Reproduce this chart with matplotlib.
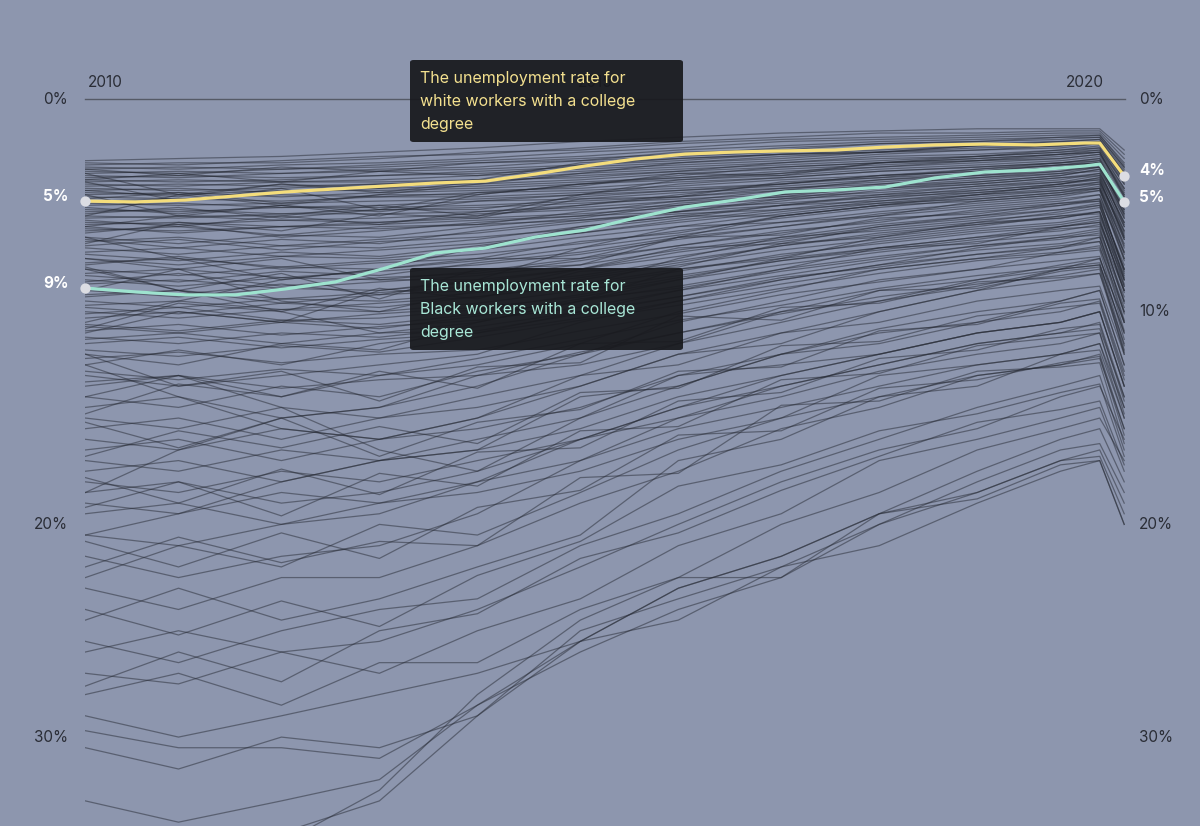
import matplotlib
matplotlib.use("Agg")
import matplotlib.pyplot as plt
from matplotlib.patches import FancyBboxPatch
import numpy as np

plt.rcParams["font.family"] = ["Inter", "DejaVu Sans"]

# time grid of the background series (decimal years)
years = [2009.8, 2010.75, 2011.8, 2012.8, 2013.8, 2014.85, 2015.85,
         2016.9, 2017.9, 2018.9, 2019.75, 2020.15, 2020.4]

# finer time grid for the two highlighted series
hl_years = [2009.8, 2010.31, 2010.82, 2011.33, 2011.84, 2012.35, 2012.86,
            2013.37, 2013.88, 2014.39, 2014.9, 2015.41, 2015.92, 2016.43,
            2016.94, 2017.45, 2017.96, 2018.47, 2018.98, 2019.49, 2020.0,
            2020.15, 2020.4]

white_rate = [4.80, 4.84, 4.75, 4.56, 4.37, 4.23, 4.09, 3.95, 3.86, 3.53,
              3.15, 2.82, 2.59, 2.49, 2.44, 2.40, 2.26, 2.16, 2.12, 2.16,
              2.07, 2.07, 3.62]
black_rate = [8.89, 9.07, 9.21, 9.21, 8.93, 8.60, 7.95, 7.24, 7.01, 6.49,
              6.16, 5.59, 5.08, 4.75, 4.37, 4.28, 4.14, 3.71, 3.43, 3.34,
              3.15, 3.06, 4.84]

# all other groups (percent unemployed)
other_rates = [
    [2.9, 2.8, 2.7, 2.5, 2.3, 2.0, 1.8, 1.6, 1.5, 1.4, 1.4, 1.4, 2.4],
    [3.0, 3.1, 2.9, 2.7, 2.6, 2.3, 2.0, 1.8, 1.6, 1.6, 1.5, 1.5, 2.6],
    [3.1, 3.0, 3.0, 2.8, 2.5, 2.4, 2.1, 1.9, 1.8, 1.7, 1.6, 1.6, 2.8],
    [3.2, 3.3, 3.1, 3.0, 2.8, 2.5, 2.3, 2.0, 1.9, 1.8, 1.7, 1.7, 3.0],
    [3.3, 3.2, 3.3, 3.1, 2.9, 2.7, 2.4, 2.2, 2.0, 1.9, 1.8, 1.7, 3.1],
    [3.4, 3.5, 3.3, 3.2, 3.0, 2.8, 2.6, 2.3, 2.1, 2.0, 1.9, 1.8, 3.2],
    [3.5, 3.4, 3.5, 3.3, 3.2, 2.9, 2.7, 2.5, 2.3, 2.1, 2.0, 1.9, 3.3],
    [3.6, 3.7, 3.5, 3.4, 3.3, 3.1, 2.8, 2.6, 2.4, 2.2, 2.1, 2.0, 3.4],
    [3.7, 3.6, 3.7, 3.6, 3.4, 3.2, 3.0, 2.7, 2.5, 2.3, 2.2, 2.0, 3.5],
    [3.8, 3.9, 3.8, 3.6, 3.5, 3.3, 3.1, 2.9, 2.6, 2.4, 2.3, 2.1, 3.7],
    [3.9, 3.8, 3.9, 3.8, 3.6, 3.4, 3.2, 3.0, 2.7, 2.6, 2.4, 2.2, 3.8],
    [4.0, 4.1, 3.9, 3.9, 3.8, 3.5, 3.3, 3.1, 2.9, 2.7, 2.5, 2.3, 3.9],
    [4.1, 4.0, 4.1, 4.0, 3.8, 3.7, 3.4, 3.2, 3.0, 2.8, 2.6, 2.4, 4.0],
    [4.2, 4.3, 4.2, 4.0, 4.0, 3.8, 3.5, 3.3, 3.1, 2.9, 2.7, 2.5, 4.2],
    [4.3, 4.2, 4.4, 4.2, 4.1, 3.9, 3.7, 3.4, 3.2, 3.0, 2.8, 2.6, 4.3],
    [4.4, 4.5, 4.3, 4.3, 4.2, 4.0, 3.8, 3.6, 3.3, 3.1, 2.9, 2.7, 4.5],
    [4.5, 4.4, 4.6, 4.4, 4.3, 4.2, 3.9, 3.7, 3.4, 3.2, 3.0, 2.8, 4.6],
    [4.6, 4.7, 4.5, 4.6, 4.4, 4.3, 4.1, 3.8, 3.6, 3.4, 3.1, 2.9, 4.8],
    [4.8, 4.7, 4.8, 4.6, 4.6, 4.4, 4.2, 4.0, 3.7, 3.5, 3.2, 3.0, 4.9],
    [4.9, 5.0, 4.9, 4.8, 4.7, 4.5, 4.3, 4.1, 3.8, 3.6, 3.4, 3.1, 5.1],
    [5.0, 4.9, 5.1, 5.0, 4.8, 4.7, 4.4, 4.2, 4.0, 3.7, 3.5, 3.2, 5.2],
    [5.2, 5.3, 5.1, 5.1, 5.0, 4.8, 4.6, 4.3, 4.1, 3.9, 3.6, 3.3, 5.4],
    [5.3, 5.2, 5.4, 5.2, 5.1, 4.9, 4.7, 4.5, 4.2, 4.0, 3.7, 3.5, 5.6],
    [5.5, 5.6, 5.4, 5.4, 5.3, 5.1, 4.8, 4.6, 4.4, 4.1, 3.9, 3.6, 5.8],
    [5.6, 5.5, 5.7, 5.6, 5.4, 5.2, 5.0, 4.7, 4.5, 4.3, 4.0, 3.7, 6.0],
    [5.8, 5.9, 5.7, 5.8, 5.6, 5.4, 5.1, 4.9, 4.6, 4.4, 4.1, 3.9, 6.2],
    [5.9, 5.8, 6.0, 5.9, 5.7, 5.5, 5.3, 5.0, 4.8, 4.5, 4.3, 4.0, 6.4],
    [6.1, 6.2, 6.0, 6.1, 5.9, 5.7, 5.4, 5.2, 4.9, 4.7, 4.4, 4.2, 6.6],
    [3.5, 4.5, 5.0, 4.5, 4.0, 3.5, 3.0, 2.8, 2.5, 2.4, 2.2, 2.1, 3.8],
    [5.5, 4.5, 4.0, 4.2, 3.8, 3.0, 2.8, 2.6, 2.5, 2.2, 2.0, 1.9, 3.5],
    [4.5, 5.5, 5.5, 5.0, 5.5, 4.5, 3.8, 3.5, 3.0, 2.8, 2.6, 2.5, 4.5],
    [6.0, 5.5, 5.0, 5.5, 4.5, 4.0, 3.6, 3.2, 3.0, 2.7, 2.5, 2.4, 4.2],
    [3.3, 3.6, 3.2, 3.4, 3.0, 2.9, 2.5, 2.4, 2.1, 2.0, 1.8, 1.8, 3.2],
    [3.8, 3.5, 3.9, 3.4, 3.6, 3.1, 2.9, 2.6, 2.5, 2.2, 2.2, 2.1, 3.6],
    [4.3, 4.6, 4.0, 4.4, 3.9, 3.6, 3.4, 3.0, 2.8, 2.7, 2.4, 2.3, 4.0],
    [4.7, 4.4, 4.9, 4.5, 4.5, 4.0, 3.7, 3.5, 3.2, 2.9, 2.8, 2.6, 4.4],
    [5.1, 5.4, 5.0, 5.3, 4.8, 4.5, 4.0, 3.7, 3.4, 3.2, 3.0, 2.9, 5.0],
    [5.4, 5.1, 5.6, 5.2, 5.2, 4.6, 4.3, 4.0, 3.6, 3.4, 3.1, 3.0, 5.3],
    [5.7, 6.0, 5.5, 5.9, 5.3, 5.0, 4.6, 4.2, 3.9, 3.6, 3.3, 3.2, 5.6],
    [3.9, 4.8, 4.2, 5.2, 4.4, 4.1, 3.5, 3.6, 3.0, 2.9, 2.6, 2.5, 4.6],
    [6.0, 6.3, 6.0, 5.8, 5.5, 5.0, 4.5, 4.0, 3.6, 3.3, 3.0, 2.8, 5.0],
    [6.2, 6.0, 6.4, 6.0, 5.9, 5.3, 4.8, 4.3, 3.8, 3.5, 3.2, 3.0, 5.5],
    [6.5, 6.8, 6.4, 6.5, 6.0, 5.6, 5.0, 4.5, 4.0, 3.7, 3.4, 3.2, 5.2],
    [6.7, 6.5, 6.9, 6.6, 6.3, 5.8, 5.3, 4.7, 4.2, 3.9, 3.6, 3.3, 6.0],
    [7.0, 7.3, 6.9, 7.0, 6.6, 6.0, 5.5, 5.0, 4.5, 4.1, 3.8, 3.5, 5.8],
    [7.2, 7.0, 7.4, 7.1, 6.8, 6.3, 5.7, 5.2, 4.7, 4.3, 4.0, 3.7, 6.5],
    [7.5, 7.8, 7.4, 7.5, 7.1, 6.5, 6.0, 5.4, 4.9, 4.5, 4.2, 3.9, 6.3],
    [7.7, 7.5, 7.9, 7.6, 7.3, 6.8, 6.2, 5.6, 5.1, 4.7, 4.4, 4.1, 7.0],
    [8.0, 8.3, 7.9, 8.0, 7.6, 7.0, 6.4, 5.8, 5.3, 4.9, 4.6, 4.3, 6.8],
    [8.2, 8.0, 8.4, 8.1, 7.8, 7.3, 6.6, 6.0, 5.5, 5.1, 4.8, 4.5, 7.5],
    [8.5, 8.8, 8.4, 8.5, 8.1, 7.5, 6.9, 6.3, 5.7, 5.3, 5.0, 4.7, 7.2],
    [8.7, 8.5, 8.9, 8.6, 8.3, 7.8, 7.1, 6.5, 5.9, 5.5, 5.2, 4.9, 8.0],
    [9.0, 9.3, 8.9, 9.0, 8.6, 8.0, 7.4, 6.7, 6.1, 5.7, 5.4, 5.1, 7.8],
    [9.2, 9.0, 9.4, 9.1, 8.8, 8.3, 7.6, 6.9, 6.3, 5.9, 5.6, 5.3, 8.5],
    [9.5, 9.8, 9.4, 9.5, 9.1, 8.5, 7.8, 7.1, 6.6, 6.1, 5.8, 5.5, 8.3],
    [9.7, 9.5, 9.9, 9.6, 9.3, 8.8, 8.1, 7.3, 6.8, 6.3, 6.0, 5.7, 9.0],
    [10.0, 10.3, 9.9, 10.0, 9.6, 9.0, 8.3, 7.6, 7.0, 6.5, 6.2, 5.9, 8.8],
    [10.3, 10.0, 10.5, 10.1, 9.8, 9.3, 8.5, 7.8, 7.2, 6.7, 6.4, 6.1, 9.5],
    [10.6, 10.9, 10.4, 10.6, 10.1, 9.5, 8.8, 8.0, 7.4, 6.9, 6.6, 6.3, 9.3],
    [10.9, 10.6, 11.1, 10.7, 10.4, 9.8, 9.0, 8.3, 7.6, 7.1, 6.8, 6.5, 10.0],
    [11.2, 11.5, 11.0, 11.2, 10.7, 10.0, 9.3, 8.5, 7.8, 7.3, 7.0, 6.7, 9.8],
    [11.5, 11.2, 11.7, 11.3, 11.0, 10.3, 9.5, 8.7, 8.0, 7.5, 7.2, 6.9, 10.5],
    [6.3, 5.9, 6.5, 6.2, 5.8, 5.5, 4.9, 4.6, 4.1, 3.8, 3.5, 3.4, 5.9],
    [6.6, 7.0, 6.6, 6.8, 6.2, 5.7, 5.3, 4.8, 4.3, 4.0, 3.7, 3.6, 6.2],
    [6.9, 6.6, 7.1, 6.7, 6.5, 6.1, 5.6, 5.0, 4.6, 4.2, 3.9, 3.8, 6.6],
    [7.3, 7.6, 7.2, 7.4, 6.9, 6.3, 5.8, 5.3, 4.8, 4.4, 4.1, 4.0, 6.9],
    [7.8, 7.4, 8.0, 7.7, 7.5, 6.7, 6.3, 5.5, 5.0, 4.6, 4.3, 4.2, 7.3],
    [8.3, 8.6, 8.1, 8.3, 7.7, 7.2, 6.5, 6.0, 5.4, 5.0, 4.7, 4.5, 7.6],
    [8.6, 8.2, 8.8, 8.4, 8.2, 7.6, 6.9, 6.2, 5.8, 5.2, 4.9, 4.8, 8.1],
    [8.9, 9.2, 8.7, 9.2, 8.5, 8.0, 7.2, 6.6, 6.0, 5.6, 5.2, 5.0, 8.4],
    [9.3, 9.0, 9.6, 9.2, 9.0, 8.4, 7.7, 6.9, 6.4, 5.9, 5.5, 5.4, 8.8],
    [9.8, 10.1, 9.6, 9.8, 9.3, 8.7, 8.0, 7.4, 6.7, 6.2, 5.9, 5.6, 9.1],
    [10.1, 9.8, 10.4, 10.3, 9.9, 9.2, 8.4, 7.6, 7.1, 6.6, 6.1, 6.0, 9.6],
    [10.7, 11.0, 10.5, 10.8, 10.2, 9.4, 8.9, 8.1, 7.5, 6.9, 6.5, 6.4, 10.1],
    [11.3, 11.0, 11.5, 11.0, 10.9, 10.1, 9.3, 8.4, 7.9, 7.3, 6.9, 6.7, 10.4],
    [11.8, 12.1, 11.6, 11.9, 11.2, 10.4, 9.7, 8.9, 8.2, 7.6, 7.3, 7.1, 10.9],
    [12.2, 11.9, 12.4, 12.0, 11.8, 10.9, 10.1, 9.2, 8.6, 8.0, 7.6, 7.4, 11.3],
    [12.8, 13.2, 12.7, 13.0, 12.2, 11.3, 10.4, 9.7, 8.9, 8.3, 7.9, 7.7, 11.6],
    [13.3, 13.0, 13.6, 13.2, 13.0, 11.9, 11.0, 10.1, 9.3, 8.7, 8.3, 8.0, 12.0],
    [6.5, 7.5, 8.5, 8.0, 7.0, 6.0, 5.5, 5.5, 5.0, 4.5, 4.0, 3.8, 6.5],
    [10.5, 9.5, 8.5, 8.0, 7.5, 7.5, 6.5, 5.5, 5.0, 4.8, 4.5, 4.2, 7.2],
    [7.5, 8.0, 9.5, 10.0, 9.0, 8.0, 7.0, 6.8, 6.0, 5.5, 5.0, 4.8, 8.0],
    [9.0, 8.0, 7.5, 8.5, 8.5, 7.0, 6.0, 5.8, 5.5, 4.8, 4.5, 4.3, 7.5],
    [11.0, 10.0, 10.5, 9.0, 8.5, 8.8, 7.5, 6.5, 6.2, 5.8, 5.3, 5.0, 8.5],
    [8.0, 9.0, 10.0, 11.0, 10.5, 9.5, 8.0, 7.5, 7.0, 6.5, 6.0, 5.8, 9.0],
    [6.8, 5.8, 6.2, 5.4, 5.6, 4.7, 4.6, 3.9, 3.7, 3.3, 3.1, 3.0, 5.4],
    [7.9, 9.0, 8.2, 9.4, 8.0, 7.8, 6.5, 6.4, 5.6, 5.4, 4.9, 4.7, 8.2],
    [10.8, 9.6, 10.0, 8.9, 9.4, 8.1, 7.9, 6.8, 6.5, 5.8, 5.6, 5.3, 8.7],
    [12.0, 13.5, 12.8, 14.2, 12.6, 12.4, 10.2, 10.4, 9.0, 8.9, 8.1, 7.9, 11.8],
    [14.8, 13.4, 14.0, 12.8, 13.6, 11.5, 11.4, 9.8, 9.6, 8.6, 8.4, 8.2, 11.9],
    [12.0, 12.5, 11.5, 11.8, 10.5, 9.5, 8.5, 7.5, 6.5, 6.0, 5.5, 5.3, 8.0],
    [12.5, 11.8, 12.5, 11.5, 11.0, 10.0, 9.0, 8.0, 7.0, 6.8, 6.0, 5.8, 8.5],
    [13.0, 13.5, 13.0, 12.5, 12.0, 10.5, 9.5, 8.5, 7.8, 7.0, 6.5, 6.2, 9.0],
    [13.5, 13.0, 14.0, 13.0, 12.5, 11.5, 10.0, 9.0, 8.0, 7.5, 7.0, 6.5, 9.5],
    [14.0, 14.5, 13.5, 14.0, 12.8, 12.0, 10.5, 9.5, 8.5, 8.0, 7.2, 7.0, 10.0],
    [14.5, 14.0, 15.0, 14.5, 13.5, 12.0, 11.0, 10.0, 9.0, 8.5, 7.8, 7.5, 10.5],
    [15.0, 15.5, 14.5, 15.0, 14.0, 13.0, 11.5, 10.5, 9.5, 8.8, 8.0, 7.8, 11.0],
    [15.5, 15.0, 16.0, 15.0, 14.5, 13.5, 12.0, 11.0, 10.0, 9.0, 8.5, 8.2, 11.5],
    [16.0, 16.5, 15.5, 16.0, 15.0, 13.0, 12.5, 11.0, 10.5, 9.5, 9.0, 8.8, 12.0],
    [16.5, 16.0, 17.0, 16.0, 15.5, 14.5, 13.0, 12.0, 10.8, 10.0, 9.5, 9.0, 12.5],
    [17.0, 17.5, 16.5, 17.0, 16.0, 15.0, 13.5, 12.0, 11.0, 10.5, 10.0, 9.5, 13.0],
    [17.5, 17.0, 18.0, 17.0, 16.5, 15.5, 14.0, 13.0, 12.0, 11.0, 10.5, 10.0, 13.5],
    [18.0, 18.5, 17.5, 18.0, 17.0, 16.0, 14.5, 13.5, 12.5, 11.5, 11.0, 10.5, 14.0],
    [18.5, 18.0, 19.0, 18.5, 17.5, 16.0, 15.0, 14.0, 12.8, 12.0, 11.5, 11.0, 14.5],
    [19.0, 19.5, 18.5, 19.0, 18.0, 17.0, 15.5, 14.5, 13.5, 12.5, 12.0, 11.5, 15.0],
    [19.5, 19.0, 20.0, 19.0, 18.5, 17.5, 16.0, 15.0, 14.0, 13.0, 12.5, 12.2, 15.5],
    [12.5, 14.0, 15.5, 16.0, 15.0, 13.5, 12.0, 11.5, 10.0, 9.0, 8.0, 7.5, 10.5],
    [18.5, 16.5, 15.0, 14.5, 13.0, 12.5, 11.5, 10.0, 9.5, 8.5, 8.0, 7.8, 11.0],
    [14.0, 13.0, 14.5, 16.5, 17.5, 15.0, 13.0, 12.5, 12.0, 11.0, 10.5, 10.0, 13.5],
    [20.5, 19.5, 18.0, 17.0, 16.5, 14.0, 13.5, 12.0, 11.5, 10.5, 9.5, 9.0, 12.5],
    [15.2, 16.4, 15.0, 16.8, 15.2, 14.6, 12.8, 12.6, 10.9, 10.6, 9.6, 9.4, 12.8],
    [16.8, 15.6, 16.4, 15.4, 16.2, 13.8, 13.6, 11.6, 11.4, 10.2, 9.8, 9.6, 13.2],
    [17.8, 19.0, 17.4, 18.6, 16.6, 16.4, 14.2, 13.8, 12.2, 11.8, 10.8, 10.6, 14.2],
    [19.2, 18.0, 19.6, 17.6, 18.2, 15.6, 15.4, 13.2, 12.9, 11.6, 11.2, 11.0, 14.8],
    [20.5, 21.0, 20.0, 19.5, 18.0, 16.0, 14.5, 13.0, 12.0, 11.0, 10.5, 10.0, 13.5],
    [20.8, 22.0, 20.4, 21.6, 19.2, 18.4, 15.8, 15.6, 13.6, 13.2, 12.4, 12.1, 15.8],
    [21.5, 22.5, 21.5, 21.0, 19.5, 17.0, 15.0, 13.5, 12.5, 11.5, 11.0, 10.8, 14.0],
    [22.0, 20.6, 21.8, 20.8, 21.0, 17.8, 17.6, 14.4, 14.2, 12.8, 12.6, 12.4, 16.2],
    [22.5, 21.0, 22.0, 20.0, 20.5, 18.5, 16.5, 15.0, 13.0, 12.5, 12.0, 11.5, 14.5],
    [23.0, 24.0, 22.5, 22.5, 21.0, 19.0, 17.5, 15.5, 14.5, 13.0, 12.5, 12.0, 15.5],
    [24.0, 25.2, 23.6, 24.8, 22.4, 20.8, 18.2, 17.2, 15.6, 14.8, 13.8, 13.4, 16.8],
    [24.5, 23.0, 24.5, 23.5, 22.0, 20.5, 17.0, 16.0, 14.0, 13.5, 12.0, 11.8, 15.0],
    [25.5, 26.5, 25.0, 24.0, 23.5, 21.0, 19.5, 17.5, 16.0, 14.5, 13.5, 13.0, 16.5],
    [26.0, 25.0, 26.0, 25.5, 24.0, 22.0, 20.0, 18.0, 16.5, 15.5, 14.0, 13.5, 16.0],
    [27.0, 27.5, 26.0, 27.0, 25.0, 23.5, 21.0, 19.5, 17.0, 16.0, 15.0, 14.5, 17.5],
    [27.6, 26.0, 27.4, 25.0, 24.2, 21.6, 20.4, 18.4, 16.8, 15.2, 14.6, 14.2, 17.2],
    [28.0, 27.0, 28.5, 26.5, 26.5, 24.0, 22.5, 20.0, 18.5, 16.5, 15.5, 15.0, 17.0],
    [29.0, 30.0, 29.0, 28.0, 27.0, 25.5, 23.0, 21.5, 19.5, 17.5, 16.0, 15.5, 18.0],
    [29.7, 30.5, 30.5, 31.0, 28.5, 26.0, 24.0, 22.5, 20.0, 18.5, 17.0, 16.5, 19.0],
    [30.5, 31.5, 30.0, 30.5, 29.0, 25.5, 24.5, 22.0, 21.0, 19.0, 17.5, 17.0, 20.0],
    [33.0, 34.0, 33.0, 32.0, 28.5, 25.5, 23.0, 21.5, 19.5, 18.5, 17.0, 16.8, 19.5],
    [34.5, 35.0, 34.5, 33.0, 29.0, 25.0, 23.5, 22.0, 20.0, 18.0, 16.5, 16.2, 18.5],
    [36.0, 36.0, 35.0, 32.5, 28.0, 24.5, 22.5, 22.5, 19.5, 18.8, 17.2, 17.0, 20.0],
]

year_ticks = [2010, 2015, 2020]
left_ticks = [0, 20, 30]
right_ticks = [0, 10, 20, 30]

bg = "#8d96ae"
ink = "#2a2d36"
yellow = "#f4dd7c"
teal = "#9ee3cf"

W, H = 1200, 826
fig = plt.figure(figsize=(12, 8.26), dpi=100, facecolor=bg)
ax = fig.add_axes([85 / W, 0, 1040 / W, (H - 99) / H])
ax.set_facecolor(bg)
ax.set_xlim(2009.796, 2020.408)
ax.set_ylim(34.18, 0)
ax.axis("off")

for row in other_rates:
    ax.plot(years, row, color="#262a34", alpha=0.5, lw=0.9, zorder=2)

ax.plot([2009.796, 2020.408], [0, 0], color="#555a66", lw=1, zorder=1, clip_on=False)

for yr in year_ticks:
    ax.annotate(str(yr), xy=(yr, 0), xytext=(0, 12), textcoords="offset points",
                ha="center", va="center", fontsize=11, color=ink, annotation_clip=False)

for v in left_ticks:
    ax.annotate(f"{v}%", xy=(2009.796, v), xytext=(-12, 0), textcoords="offset points",
                ha="right", va="center", fontsize=11, color=ink, annotation_clip=False)
for v in right_ticks:
    ax.annotate(f"{v}%", xy=(2020.408, v), xytext=(10, 0), textcoords="offset points",
                ha="left", va="center", fontsize=11, color=ink, annotation_clip=False)

ax.plot(hl_years, white_rate, color=yellow, lw=2.3, zorder=5, solid_capstyle="round")
ax.plot(hl_years, black_rate, color=teal, lw=2.3, zorder=5, solid_capstyle="round")

ends_x = [hl_years[0], hl_years[0], hl_years[-1], hl_years[-1]]
ends_y = [white_rate[0], black_rate[0], white_rate[-1], black_rate[-1]]
ax.scatter(ends_x, ends_y, s=55, color="#dcdde3", zorder=6, clip_on=False, linewidths=0)

# value labels at the ends of the highlighted lines
for yv, lab in [(white_rate[0], "5%"), (black_rate[0], "9%")]:
    ax.annotate(lab, xy=(hl_years[0], yv), xytext=(-12, 3), textcoords="offset points",
                ha="right", va="center", fontsize=11, fontweight="bold", color="white",
                annotation_clip=False)
for yv, lab, dy in [(white_rate[-1], "4%", 4), (black_rate[-1], "5%", 3)]:
    ax.annotate(lab, xy=(hl_years[-1], yv), xytext=(11, dy), textcoords="offset points",
                ha="left", va="center", fontsize=11, fontweight="bold", color="white",
                annotation_clip=False)

# annotation boxes (pixel positions measured from the top-left)
def box(x0, y0, x1, y1, lines, col):
    p = FancyBboxPatch((x0 / W, 1 - y1 / H), (x1 - x0) / W, (y1 - y0) / H,
                       boxstyle="round,pad=0,rounding_size=0.003",
                       transform=fig.transFigure, facecolor="#18191d",
                       edgecolor="none", alpha=0.93, zorder=10)
    fig.patches.append(p)
    for i, t in enumerate(lines):
        fig.text((x0 + 10) / W, 1 - (y0 + 18 + 23.5 * i) / H, t, ha="left",
                 va="center", fontsize=11.5, color=col, zorder=11)

box(410, 60, 683, 142,
    ["The unemployment rate for", "white workers with a college", "degree"], "#f3e08f")
box(410, 268, 683, 350,
    ["The unemployment rate for", "Black workers with a college", "degree"], "#a8e6d6")

fig.savefig("out.png", dpi=100, facecolor=bg)
